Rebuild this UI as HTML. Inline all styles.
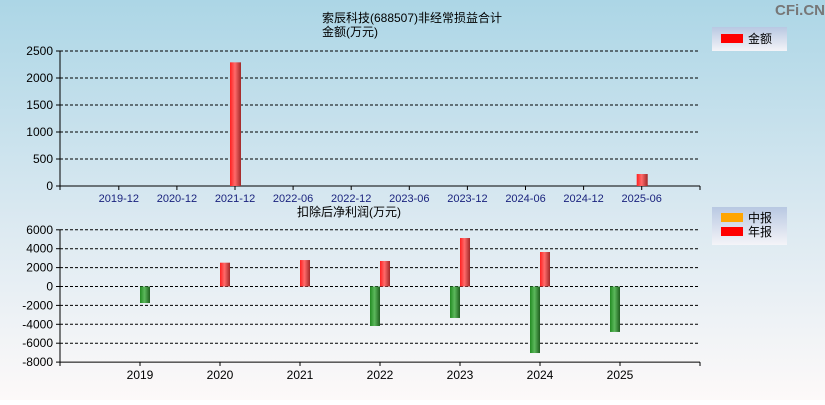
<!DOCTYPE html>
<html><head><meta charset="utf-8"><style>
body{margin:0;width:825px;height:400px;overflow:hidden;font-family:"Liberation Sans","Noto Sans CJK SC",sans-serif}
svg text{font-family:"Liberation Sans","Noto Sans CJK SC",sans-serif}
</style></head><body>
<svg id="c" width="825" height="400" xmlns="http://www.w3.org/2000/svg">
<defs>
<linearGradient id="bg" x1="0" y1="0" x2="0" y2="1"><stop offset="0" stop-color="#acd6e6"/><stop offset="0.55" stop-color="#dbe9f1"/><stop offset="1" stop-color="#fdf9f9"/></linearGradient>
<linearGradient id="red" x1="0" x2="1"><stop offset="0" stop-color="#ff2020"/><stop offset="0.45" stop-color="#ff6a6a"/><stop offset="1" stop-color="#a02828"/></linearGradient>
<linearGradient id="grn" x1="0" x2="1"><stop offset="0" stop-color="#228b22"/><stop offset="0.45" stop-color="#5cb85c"/><stop offset="1" stop-color="#1e5e1e"/></linearGradient>
<linearGradient id="leg" x1="0" y1="0" x2="0" y2="1"><stop offset="0" stop-color="#b8c8e2"/><stop offset="1" stop-color="#f4f4f8"/></linearGradient>
</defs>
<rect width="825" height="400" fill="url(#bg)"/>
<text x="800" y="15" font-size="15" fill="#777" text-anchor="middle" font-weight="bold">CFi.CN</text>
<text x="412" y="22" font-size="12" text-anchor="middle">索辰科技(688507)非经常损益合计</text>
<text x="322" y="36" font-size="12">金额(万元)</text>
<text x="297" y="216" font-size="12">扣除后净利润(万元)</text>
<g><rect x="712" y="27" width="75" height="24" fill="url(#leg)"/><rect x="721" y="34" width="22" height="9" fill="#f00"/><text x="748" y="43" font-size="12">金额</text></g>
<g><rect x="712" y="207" width="75" height="38" fill="url(#leg)"/><rect x="721" y="213" width="22" height="9" fill="#ffa500"/><text x="748" y="222" font-size="12">中报</text><rect x="721" y="227" width="22" height="9" fill="#f00"/><text x="748" y="236" font-size="12">年报</text></g>
<g id="top"></g><g id="bot"></g>
</svg>
<script>
const topCats=["2019-12","2020-12","2021-12","2022-06","2022-12","2023-06","2023-12","2024-06","2024-12","2025-06"];
const topVals=[0,0,2290,0,0,0,0,0,0,222];
const topTicks=[0,500,1000,1500,2000,2500];
const botYears=["2019","2020","2021","2022","2023","2024","2025"];
const midVals=[-1750,null,null,-4180,-3330,-7040,-4810];
const annVals=[null,2520,2800,2700,5130,3650,null];
const botTicks=[6000,4000,2000,0,-2000,-4000,-6000,-8000];
const NS="http://www.w3.org/2000/svg";
function mk(p,t,a){const e=document.createElementNS(NS,t);for(const k in a)e.setAttribute(k,a[k]);p.appendChild(e);return e;}
const X0=60,X1=700;
// top
const gt=document.getElementById('top');
const ty=v=>186-v*(135/2500);
const tx=i=>235+58.1*(i-2);
topTicks.forEach(v=>{const y=ty(v);
 if(v>0){const l=mk(gt,'line',{x1:X0,x2:X1,y1:y,y2:y,stroke:'#000','stroke-dasharray':'3,2'});}
 mk(gt,'line',{x1:X0-4,x2:X0,y1:y,y2:y,stroke:'#000'});
 const t=mk(gt,'text',{x:X0-7,y:y+4,'font-size':12,'text-anchor':'end'});t.textContent=v;
 });
mk(gt,'line',{x1:X0,x2:X0,y1:ty(2500),y2:190,stroke:'#000'});
mk(gt,'line',{x1:X0,x2:X1,y1:186,y2:186,stroke:'#000'});
mk(gt,'line',{x1:X1,x2:X1,y1:186,y2:190,stroke:'#000'});
topCats.forEach((c,i)=>{const x=tx(i);
 mk(gt,'line',{x1:x,x2:x,y1:186,y2:190,stroke:'#000'});
 const t=mk(gt,'text',{x:x,y:202,'font-size':11,'text-anchor':'middle',fill:'#1a237e'});t.textContent=c;
 
 const v=topVals[i];if(v){const r=mk(gt,'rect',{x:x-5,y:ty(v),width:11,height:186-ty(v),fill:'url(#red)'});
 }});
// bottom
const gb=document.getElementById('bot');
const by=v=>286.5-v*(18.9/2000);
const bx=i=>140+80*i;
botTicks.forEach(v=>{const y=by(v);
 if(v!==-8000){const l=mk(gb,'line',{x1:X0,x2:X1,y1:y,y2:y,stroke:'#000','stroke-dasharray':'3,2'});}
 mk(gb,'line',{x1:X0-4,x2:X0,y1:y,y2:y,stroke:'#000'});
 const t=mk(gb,'text',{x:X0-7,y:y+4,'font-size':12,'text-anchor':'end'});t.textContent=v;
 });
mk(gb,'line',{x1:X0,x2:X0,y1:by(6000),y2:366,stroke:'#000'});
mk(gb,'line',{x1:X0,x2:X1,y1:by(-8000),y2:by(-8000),stroke:'#000'});
mk(gb,'line',{x1:X1,x2:X1,y1:by(-8000),y2:366,stroke:'#000'});
botYears.forEach((c,i)=>{const x=bx(i);
 mk(gb,'line',{x1:x,x2:x,y1:by(-8000),y2:366,stroke:'#000'});
 const t=mk(gb,'text',{x:x,y:379,'font-size':12,'text-anchor':'middle'});t.textContent=c;
 
 const m=midVals[i];if(m!==null){const ox=i===0?0:-10;const y0=Math.min(by(m),by(0));
  const r=mk(gb,'rect',{x:x+ox,y:y0,width:10,height:Math.abs(by(m)-by(0)),fill:m<0?'url(#grn)':'url(#red)'});
  }
 const a=annVals[i];if(a!==null){const y0=Math.min(by(a),by(0));
  const r=mk(gb,'rect',{x:x,y:y0,width:10,height:Math.abs(by(a)-by(0)),fill:a<0?'url(#grn)':'url(#red)'});
  }});
</script>
</body></html>
